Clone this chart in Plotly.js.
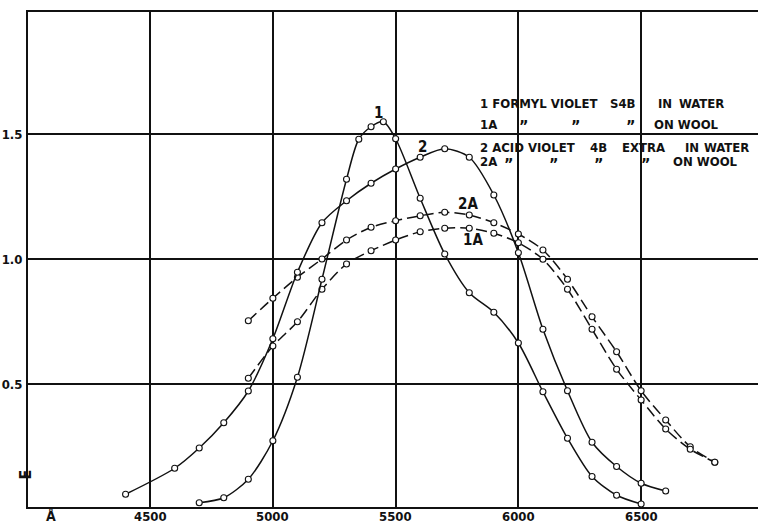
<!DOCTYPE html>
<html>
<head>
<meta charset="utf-8">
<script src="https://cdn.plot.ly/plotly-3.0.1.min.js"></script>
<style>html,body{margin:0;padding:0;background:#fff;}#chart{width:758px;height:525px;}</style>
</head>
<body>
<div id="chart"></div>
<script>
// Wavelength (Å) and extinction E
const curve1X = [4700,4800,4900,5000,5100,5200,5300,5350,5400,5450,5500,5600,5700,5800,5900,6000,6100,6200,6300,6400,6500];
const curve1Y = [0.025,0.045,0.119,0.273,0.527,0.919,1.319,1.479,1.529,1.549,1.481,1.243,1.02,0.865,0.787,0.664,0.469,0.283,0.13,0.055,0.02];

const curve2X = [4400,4600,4700,4800,4900,5000,5100,5200,5300,5400,5500,5600,5700,5800,5900,6000,6100,6200,6300,6400,6500,6600];
const curve2Y = [0.059,0.163,0.244,0.345,0.472,0.681,0.947,1.145,1.233,1.303,1.36,1.407,1.441,1.407,1.256,1.025,0.719,0.473,0.267,0.17,0.103,0.072];

const curve1AX = [4900,5000,5100,5200,5300,5400,5500,5600,5700,5800,5900,6000,6100,6200,6300,6400,6500,6600,6700,6800];
const curve1AY = [0.523,0.652,0.749,0.879,0.98,1.033,1.076,1.109,1.123,1.123,1.103,1.065,0.999,0.879,0.719,0.559,0.436,0.32,0.239,0.187];

const curve2AX = [4900,5000,5100,5200,5300,5400,5500,5600,5700,5800,5900,6000,6100,6200,6300,6400,6500,6600,6700,6800];
const curve2AY = [0.753,0.843,0.927,1.0,1.076,1.127,1.153,1.173,1.187,1.176,1.145,1.10,1.036,0.919,0.769,0.629,0.473,0.356,0.249,0.187];

const xTicks = [4500,5000,5500,6000,6500];
const xTickText = ['4500','5000','5500','6000','6500'];
const yTicks = [0.5,1.0,1.5];
const yTickText = ['0.5','1.0','1.5'];

const curveLabels = ['1','2','2A','1A'];
const curveLabelX = [5430,5609,5796,5816];
const curveLabelY = [1.585,1.449,1.219,1.076];

const legendRow1 = ['1 FORMYL VIOLET','S4B','IN','WATER'];
const legendRow2 = ['1A','\u201D','\u201D','\u201D','ON WOOL'];
const legendRow3 = ['2 ACID VIOLET','4B','EXTRA','IN','WATER'];
const legendRow4 = ['2A','\u201D','\u201D','\u201D','\u201D','ON WOOL'];

// ---- layout helpers (pixel geometry of the plot frame) ----
const L = 28, R = 758, T = 12, B = 507;
const px = x => (x - L) / (R - L);
const py = y => (B - y) / (B - T);
const FONT = 'DejaVu Sans Condensed, Liberation Sans Narrow, sans-serif';

function curve(x, y, dashed) {
  return {
    x: x, y: y, type: 'scatter', mode: 'lines+markers',
    line: {color: '#111', width: 1.5, shape: 'spline', smoothing: 0.8, dash: dashed ? '11px,5px' : 'solid'},
    marker: {symbol: 'circle', size: 6, color: '#fff', line: {color: '#111', width: 1.1}},
    hoverinfo: 'skip', showlegend: false
  };
}

const data = [
  curve(curve2AX, curve2AY, true),
  curve(curve1AX, curve1AY, true),
  curve(curve2X, curve2Y, false),
  curve(curve1X, curve1Y, false)
];

const ann = [];
const lf = {family: FONT, size: 13, color: '#111', weight: 'bold'};
const qf = {family: FONT, size: 16, color: '#111', weight: 'bold'};
curveLabels.forEach((t, i) => ann.push({x: curveLabelX[i], y: curveLabelY[i], xref: 'x', yref: 'y', text: t, showarrow: false, font: {family: FONT, size: 15, color: '#111', weight: 'bold'}}));

function row(texts, xs, y) {
  texts.forEach((t, i) => {
    const q = (t === '\u201D');
    ann.push({x: px(xs[i]), y: py(q ? y + 2 : y), xref: 'paper', yref: 'paper',
      xanchor: q ? 'center' : 'left', yanchor: 'middle', text: t, showarrow: false, font: q ? qf : lf});
  });
}
row(legendRow1, [478, 608, 656, 677], 104);
row(legendRow2, [478, 523, 575, 630, 652], 124);
row(legendRow3, [478, 588, 620, 683, 702], 147);
row(legendRow4, [478, 508, 553, 598, 645, 671], 162);

// x tick labels placed on the x scale, flush with the bottom edge
xTicks.forEach((v, i) => ann.push({x: v, y: py(525), xref: 'x', yref: 'paper', xanchor: 'center', yanchor: 'bottom',
  text: xTickText[i], showarrow: false, borderpad: 0, font: {family: FONT, size: 13, color: '#111', weight: 'bold'}}));

// axis symbols
ann.push({x: px(13), y: py(482), xref: 'paper', yref: 'paper', text: 'E', textangle: -90, showarrow: false,
  font: {family: FONT, size: 16, color: '#111', weight: 'bold'}});
ann.push({x: px(45), y: py(525), xref: 'paper', yref: 'paper', yanchor: 'bottom', text: 'Å', showarrow: false, borderpad: 0,
  font: {family: FONT, size: 14, color: '#111', weight: 'bold'}});

const layout = {
  width: 758, height: 525,
  margin: {l: L, r: 758 - R, t: T, b: 525 - B, pad: 0},
  paper_bgcolor: '#fff', plot_bgcolor: '#fff',
  xaxis: {
    range: [4002.6, 6976], tickvals: xTicks, showticklabels: false,
    showgrid: true, gridcolor: '#111', gridwidth: 2,
    showline: true, linecolor: '#111', linewidth: 2, mirror: true,
    zeroline: false, ticks: ''
  },
  yaxis: {
    range: [0.008, 1.988], tickvals: yTicks, ticktext: yTickText,
    showgrid: true, gridcolor: '#111', gridwidth: 2,
    showline: true, linecolor: '#111', linewidth: 2, mirror: false,
    zeroline: false, ticks: '', ticklabelstandoff: 1,
    tickfont: {family: FONT, size: 13, color: '#111', weight: 'bold'}
  },
  annotations: ann,
  showlegend: false
};

Plotly.newPlot('chart', data, layout, {staticPlot: true, displayModeBar: false});
</script>
</body>
</html>
